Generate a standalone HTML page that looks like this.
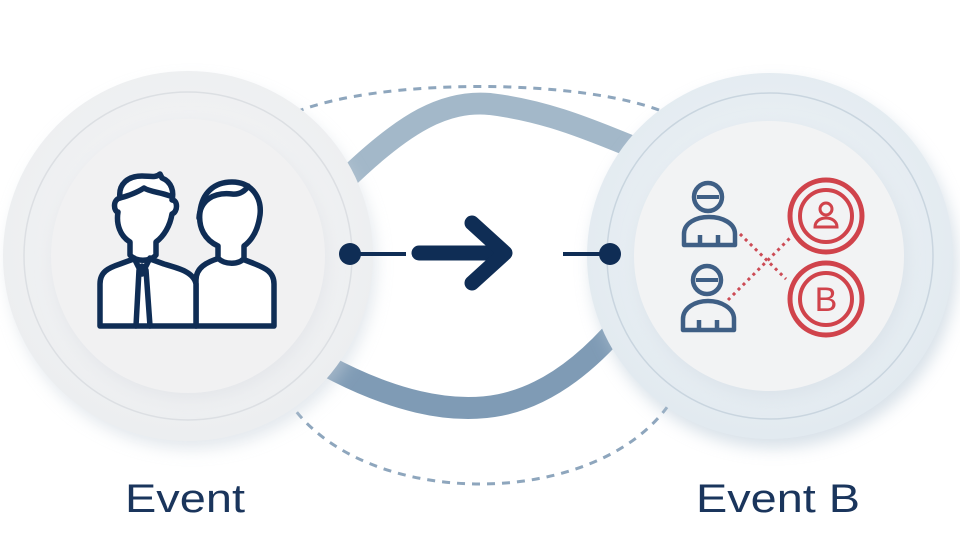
<!DOCTYPE html>
<html><head><meta charset="utf-8"><style>
html,body{margin:0;padding:0;background:#fff;width:960px;height:560px;overflow:hidden}
</style></head><body>
<svg width="960" height="560" viewBox="0 0 960 560" xmlns="http://www.w3.org/2000/svg">
<defs>
<filter id="sh" x="-30%" y="-30%" width="160%" height="160%"><feGaussianBlur stdDeviation="8"/></filter>
<radialGradient id="gl" cx="50%" cy="45%" r="55%"><stop offset="0" stop-color="#f6f6f7"/><stop offset="1" stop-color="#eceef0"/></radialGradient>
<radialGradient id="gr" cx="50%" cy="45%" r="55%"><stop offset="0" stop-color="#f0f4f7"/><stop offset="1" stop-color="#e2eaf0"/></radialGradient>
</defs>
<rect width="960" height="560" fill="#fff"/>
<g fill="none" stroke="#8ea6bd" stroke-width="3" stroke-dasharray="8 7">
<path d="M296 112 C380 78 580 78 664 112"/>
<path d="M288 400 C360 512 600 512 672 400"/>
</g>
<path d="M345 180 C 405 122, 445 100, 490 104 C 540 110, 580 125, 640 150" fill="none" stroke="#a3b8c9" stroke-width="22"/>
<path d="M325 365 C 390 400, 450 415, 500 405 C 550 395, 590 360, 620 325" fill="none" stroke="#7f9bb5" stroke-width="22"/>
<!-- left circle -->
<circle cx="192" cy="265" r="184" fill="#c8d2dc" opacity="0.5" filter="url(#sh)"/>
<circle cx="188" cy="256" r="185" fill="url(#gl)"/>
<circle cx="188" cy="256" r="164" fill="none" stroke="#dcdfe3" stroke-width="1.5"/>
<circle cx="190" cy="262" r="137" fill="#e4e6ea" filter="url(#sh)"/>
<circle cx="188" cy="256" r="137" fill="#f1f1f2"/>
<!-- right circle -->
<circle cx="774" cy="265" r="183" fill="#b8c8d6" opacity="0.55" filter="url(#sh)"/>
<circle cx="770" cy="256" r="183" fill="url(#gr)"/>
<circle cx="770" cy="256" r="163" fill="none" stroke="#c9d5df" stroke-width="1.5"/>
<circle cx="772" cy="262" r="135" fill="#dbe3ea" filter="url(#sh)"/>
<circle cx="769" cy="256" r="135" fill="#f2f3f4"/>
<!-- people icon -->
<g fill="#fff" stroke="#0f2d55" stroke-width="5.5" stroke-linejoin="round" stroke-linecap="round">
<path d="M196 326 V280 C196 268 206 262 220 258 L232 255 L250 262 C266 268 274 272 274 284 V326 Z"/>
<path d="M218 258 V246 C205 240 198 228 200 212 C202 193 214 182 232 182 C252 182 262 198 260 215 C258 230 252 240 244 246 V258 C240 265 224 265 218 258 Z"/>
<path d="M199 218 C200 200 214 192 232 194 C240 195 246 190 248 186" fill="none"/>
<path d="M100 326 V284 C100 272 108 268 120 264 L142 256 L164 264 C178 268 194 272 196 284 V326 Z"/>
<path d="M130 255 V242 C120 236 116 224 118 212 C114 212 112 200 120 198 C118 184 128 176 142 176 C150 176 156 178 160 174 L162 178 C172 182 174 192 172 200 C178 200 178 212 172 214 C170 226 164 236 156 242 V255 C150 262 136 262 130 255 Z"/>
<path d="M120 198 C128 196 138 192 144 188 C150 192 160 192 170 196" fill="none"/>
<path d="M134 258 L142 274 L150 258 M139 270 L136 326 M146 270 L150 326 M142 266 L142 274" fill="none"/>
</g>
<!-- right icons -->
<g fill="none" stroke="#3f5f85" stroke-width="4.5" stroke-linejoin="round">
<circle cx="708" cy="197" r="14"/><line x1="697" y1="197" x2="719" y2="197" stroke-width="4"/>
<path d="M684 245 V234 C684 223 696 217 709 217 C722 217 735 223 735 234 V245 Z"/><path d="M700 245 V235 M718 245 V235"/>
<circle cx="707" cy="280" r="14"/><line x1="696" y1="280" x2="718" y2="280" stroke-width="4"/>
<path d="M683 330 V319 C683 308 695 301 708 301 C721 301 734 308 734 319 V330 Z"/><path d="M699 330 V320 M717 330 V320"/>
</g>
<g stroke="#cc4b55" stroke-width="3" stroke-dasharray="3 4" fill="none">
<line x1="740" y1="234" x2="786" y2="279"/><line x1="728" y1="300" x2="790" y2="238"/>
</g>
<g fill="none" stroke="#d0434b">
<circle cx="826" cy="216" r="36" stroke-width="5"/><circle cx="826" cy="216" r="26" stroke-width="4"/>
<circle cx="826" cy="299" r="36" stroke-width="5"/><circle cx="826" cy="299" r="26" stroke-width="4"/>
<circle cx="826" cy="209" r="6" stroke-width="3"/><path d="M815 227 C815 215 837 215 837 227 Z" stroke-width="3"/>
</g>
<text x="826" y="311" text-anchor="middle" font-family="Liberation Sans, sans-serif" font-size="34" fill="#d0434b">B</text>
<!-- connector -->
<g stroke="#0f2d55" fill="#0f2d55">
<line x1="350" y1="254" x2="406" y2="254" stroke-width="4"/>
<circle cx="350" cy="254" r="11" stroke="none"/>
<line x1="563" y1="254" x2="610" y2="254" stroke-width="4"/>
<circle cx="610" cy="254" r="11" stroke="none"/>
<line x1="419" y1="253" x2="500" y2="253" stroke-width="15" stroke-linecap="round"/>
<polyline points="472,223 505,253 472,283" fill="none" stroke-width="15" stroke-linecap="round" stroke-linejoin="round"/>
</g>
<g font-family="Liberation Sans, sans-serif" font-size="40" fill="#1a355c">
<text x="125" y="512" textLength="120" lengthAdjust="spacingAndGlyphs">Event</text>
<text x="696" y="512" textLength="164" lengthAdjust="spacingAndGlyphs">Event B</text>
</g>
</svg>
</body></html>
